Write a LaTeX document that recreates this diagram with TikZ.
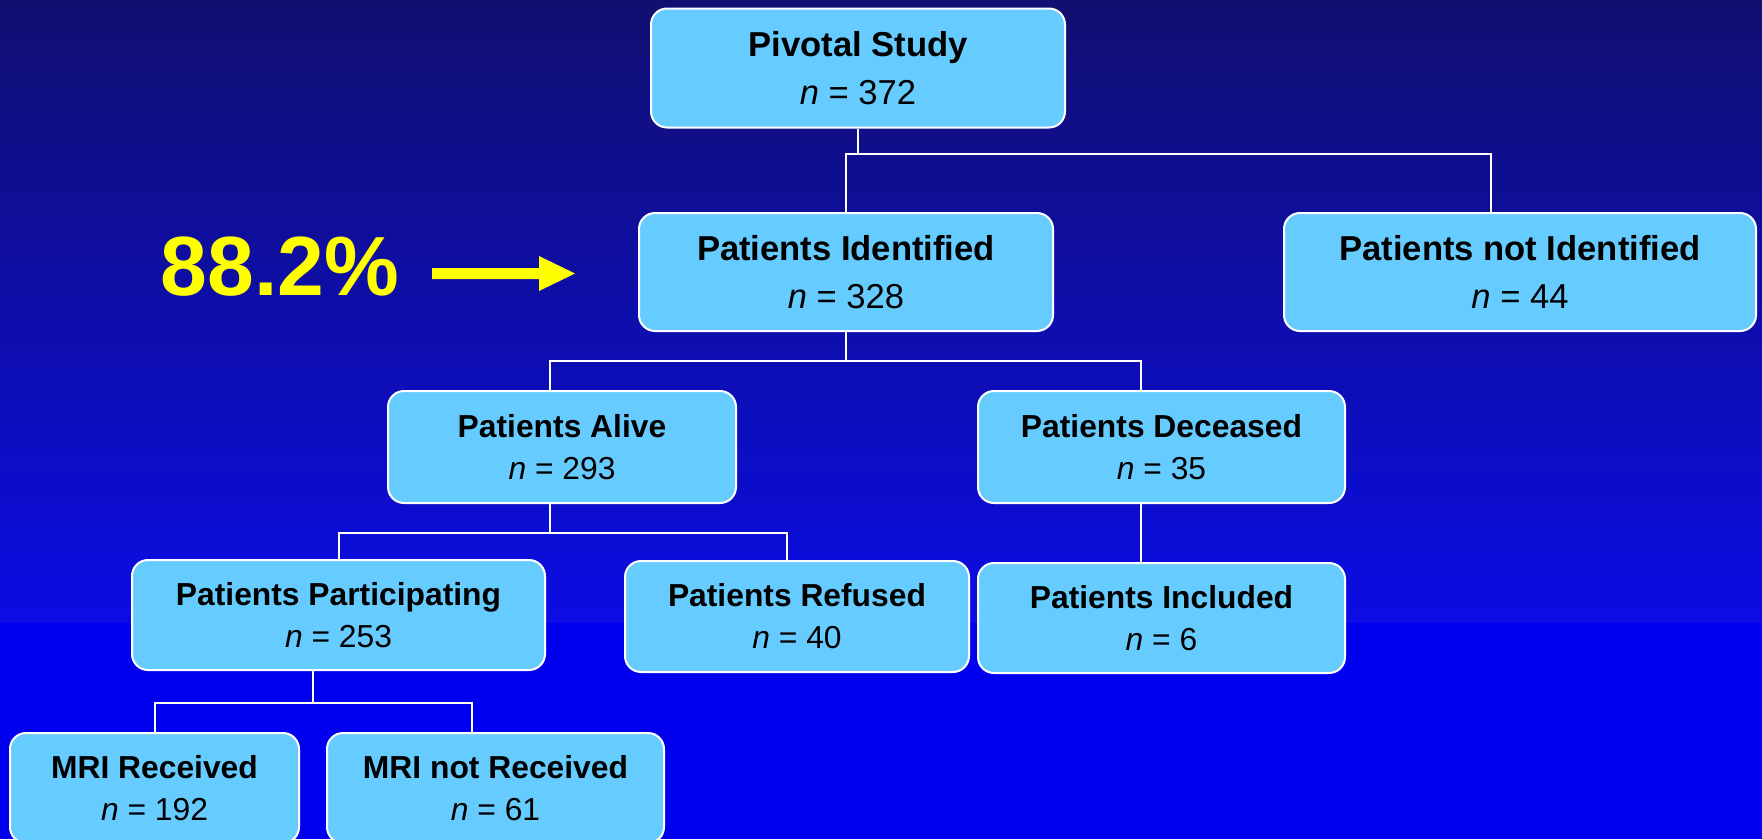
\documentclass[tikz,border=0pt]{standalone}
\usepackage{fontspec}
\setmainfont{Liberation Sans}
\definecolor{bgtop}{RGB}{17,15,112}
\definecolor{bgbot}{RGB}{11,13,228}
\definecolor{bglow}{RGB}{0,0,238}
\definecolor{boxfill}{RGB}{102,204,255}
\definecolor{yel}{RGB}{255,255,0}
\tikzset{
  flowbox/.style={draw=white, line width=2pt, fill=boxfill, rounded corners=16pt,
    align=center, inner sep=0pt, text=black},
  bigtxt/.style={font=\fontsize{34.6}{48}\selectfont},
  smalltxt/.style={font=\fontsize{31.8}{42}\selectfont},
  conn/.style={draw=white, line width=2pt},
}
\begin{document}
\begin{tikzpicture}[x=1pt,y=-1pt]
\path[use as bounding box, clip] (0,0) rectangle (1762,839);
% background
\fill[top color=bgtop, bottom color=bgbot] (0,0) rectangle (1762,623);
\fill[bglow] (0,623) rectangle (1762,839);

% boxes
\node[flowbox, bigtxt, minimum width=414pt, minimum height=119pt] (piv) at (858,68)
  {\textbf{Pivotal Study}\\\textit{n} = 372};
\node[flowbox, bigtxt, minimum width=414pt, minimum height=118pt] (ident) at (846,272)
  {\textbf{Patients Identified}\\\textit{n} = 328};
\node[flowbox, bigtxt, minimum width=472pt, minimum height=118pt] (notid) at (1520,272)
  {\textbf{Patients not Identified}\\\textit{n} = 44};
\node[flowbox, smalltxt, minimum width=348pt, minimum height=112pt] (alive) at (562,447)
  {\textbf{Patients Alive}\\\textit{n} = 293};
\node[flowbox, smalltxt, minimum width=367pt, minimum height=112pt] (dec) at (1161.5,447)
  {\textbf{Patients Deceased}\\\textit{n} = 35};
\node[flowbox, smalltxt, minimum width=413pt, minimum height=110pt] (part) at (338.5,615)
  {\textbf{Patients Participating}\\\textit{n} = 253};
\node[flowbox, smalltxt, minimum width=344pt, minimum height=111pt] (ref) at (797,616.5)
  {\textbf{Patients Refused}\\\textit{n} = 40};
\node[flowbox, smalltxt, minimum width=367pt, minimum height=110pt] (incl) at (1161.5,618)
  {\textbf{Patients Included}\\\textit{n} = 6};
\node[flowbox, smalltxt, minimum width=289pt, minimum height=110pt] (mri1) at (154.5,788)
  {\textbf{MRI Received}\\\textit{n} = 192};
\node[flowbox, smalltxt, minimum width=337pt, minimum height=110pt] (mri2) at (495.5,788)
  {\textbf{MRI not Received}\\\textit{n} = 61};

% helper x positions
\coordinate (xa) at (1491,0);
\coordinate (xb) at (550,0);
\coordinate (xc) at (1141,0);
\coordinate (xd) at (787,0);
\coordinate (xe) at (313,0);
\coordinate (xf) at (472,0);

% connectors
\coordinate (j1) at (858,154);
\draw[conn] (piv.south) -- (j1);
\draw[conn] (ident.north) |- (j1);
\draw[conn] (j1) -| (notid.north -| xa);

\coordinate (j2) at (846,361);
\draw[conn] (ident.south) -- (j2);
\draw[conn] (j2) -| (alive.north -| xb);
\draw[conn] (j2) -| (dec.north -| xc);

\coordinate (j3) at (550,533);
\draw[conn] (alive.south -| xb) -- (j3);
\draw[conn] (j3) -| (part.north);
\draw[conn] (j3) -| (ref.north -| xd);

\draw[conn] (dec.south -| xc) -- (incl.north -| xc);

\coordinate (j4) at (313,703);
\draw[conn] (part.south -| xe) -- (j4);
\draw[conn] (j4) -| (mri1.north);
\draw[conn] (j4) -| (mri2.north -| xf);

% percentage and arrow
\node[font=\fontsize{84}{84}\selectfont\bfseries, text=yel, anchor=base, inner sep=0pt]
  (pct) at (280,295) {88.2\%};
\fill[yel] (432,268) -- (539,268) -- (539,256) -- (575,273.5) -- (539,291)
  -- (539,279) -- (432,279) -- cycle;
\end{tikzpicture}
\end{document}
